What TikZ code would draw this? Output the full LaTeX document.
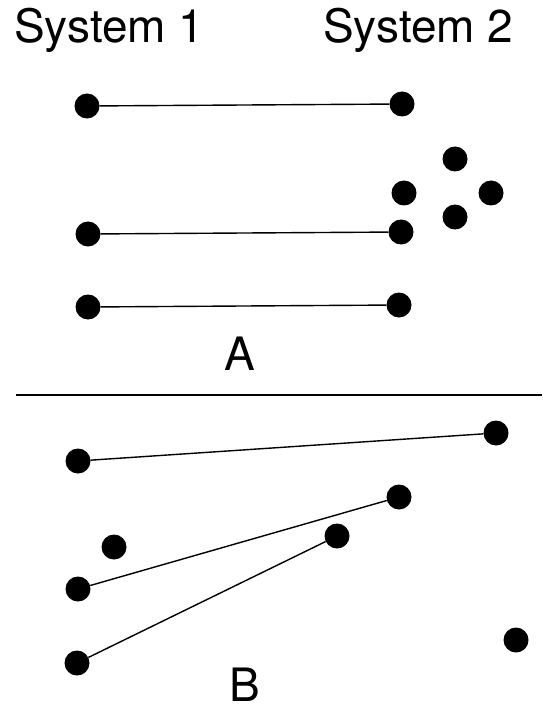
\documentclass[tikz,border=0pt]{standalone}
\usepackage{fontspec}
\setmainfont{TeX Gyre Heros}
\begin{document}
\begin{tikzpicture}[x=1pt,y=-1pt,
  dot/.style={circle,fill=black,inner sep=0pt,minimum size=25pt},
  link/.style={line width=1.4pt,black},
  lbl/.style={inner sep=0pt,font=\fontsize{46}{50}\selectfont}]
\useasboundingbox (0,0) rectangle (542,711);
% titles
\node[lbl,anchor=base west] (t1) at (14,43) {System 1};
\node[lbl,anchor=base west] (t2) at (323,43) {System 2};
% part A
\node[dot] (a1) at (87,106) {};
\node[dot] (a2) at (402,104) {};
\node[dot] (a3) at (455,159) {};
\node[dot] (a4) at (404,193) {};
\node[dot] (a5) at (491,193) {};
\node[dot] (a6) at (455,217) {};
\node[dot] (a7) at (88,234) {};
\node[dot] (a8) at (401,232) {};
\node[dot] (a9) at (88,307) {};
\node[dot] (a10) at (399,305) {};
\draw[link] (a1) -- (a2);
\draw[link] (a7) -- (a8);
\draw[link] (a9) -- (a10);
\node[lbl,anchor=base] (la) at (240,370) {A};
% separator
\coordinate (s1) at (16,395);
\coordinate (s2) at (542,395);
\draw[link] (s1) -- (s2);
% part B
\node[dot] (b1) at (78,461) {};
\node[dot] (b2) at (496,433) {};
\node[dot] (b3) at (399,497) {};
\node[dot] (b4) at (114,547) {};
\node[dot] (b5) at (78,589) {};
\node[dot] (b6) at (337,536) {};
\node[dot] (b7) at (77,663) {};
\node[dot] (b8) at (516,640) {};
\draw[link] (b1) -- (b2);
\draw[link] (b5) -- (b3);
\draw[link] (b7) -- (b6);
\node[lbl,anchor=base] (lb) at (245,701) {B};
\end{tikzpicture}
\end{document}
